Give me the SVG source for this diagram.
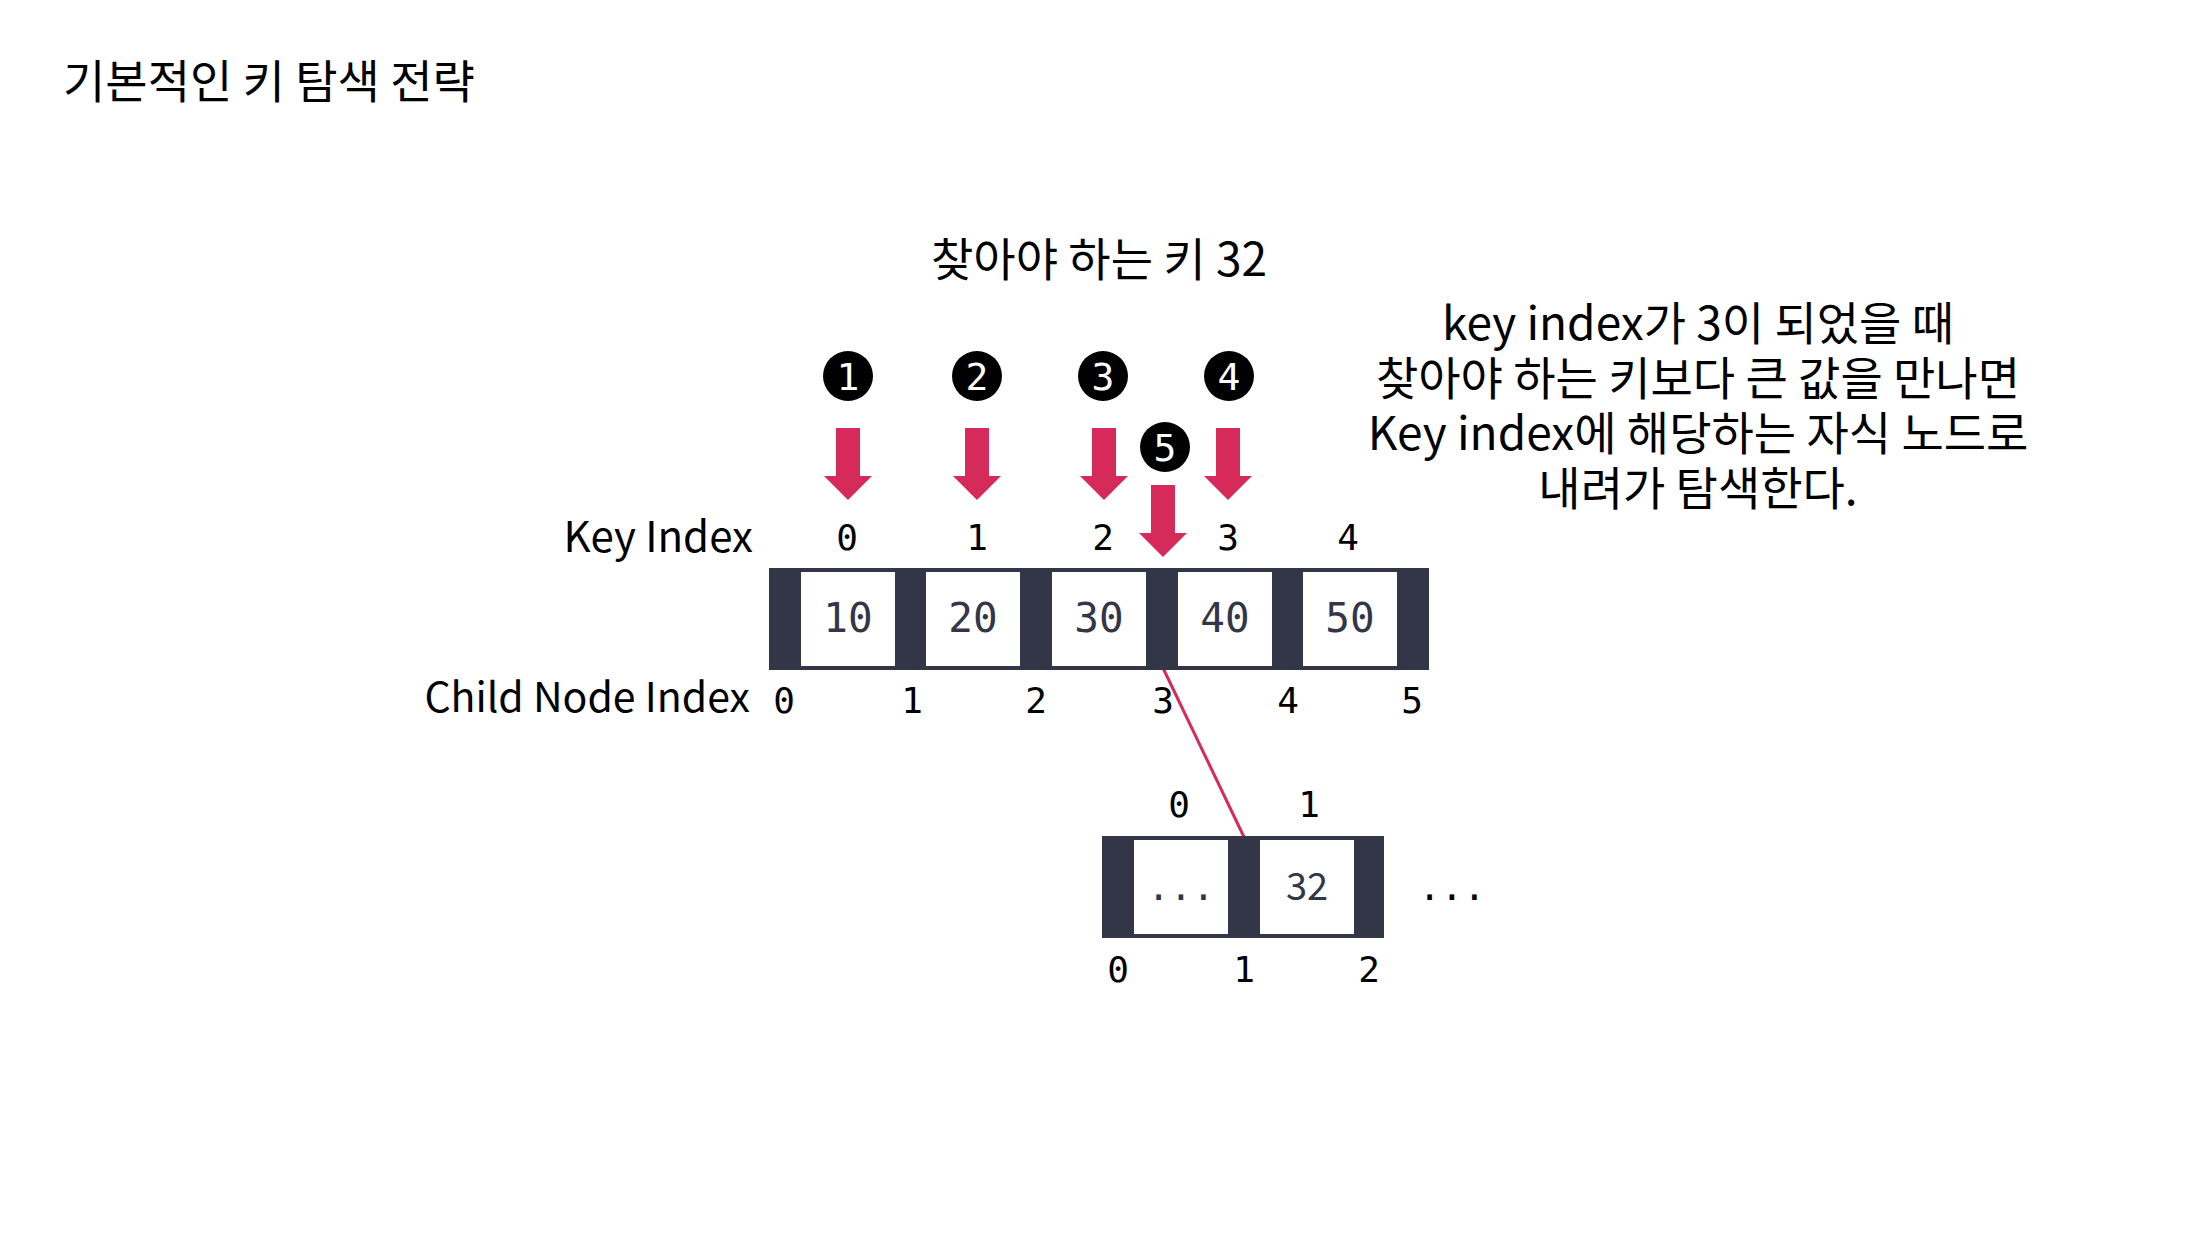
<svg xmlns="http://www.w3.org/2000/svg" width="2200" height="1236" viewBox="0 0 2200 1236">
<style>
.kr{font-family:"Noto Sans CJK KR","Noto Sans",sans-serif;fill:#000}
.mono{font-family:"DejaVu Sans Mono","Liberation Mono",monospace;fill:#000}
.frame{fill:#333647}
.cell{fill:#fff}
.val{font-family:"DejaVu Sans Mono","Liberation Mono",monospace;fill:#333647;font-size:41px;text-anchor:middle}
.idx{font-size:36px;text-anchor:middle}
.arrow{fill:#d52a5a}
.step circle{fill:#000}
.step text{font-family:"DejaVu Sans Mono",monospace;fill:#fff;font-size:38px;text-anchor:middle}
</style>
<defs>
<path id="arr" d="M-12,0 H12 V48 H24 L0,72 L-24,48 H-12 Z"/>
</defs>
<rect width="2200" height="1236" fill="#fff"/>

<text class="kr" x="63" y="98" font-size="46">기본적인 키 탐색 전략</text>
<text class="kr" x="1099" y="276" font-size="46" text-anchor="middle">찾아야 하는 키 32</text>

<g id="note" class="kr" font-size="46" text-anchor="middle">
<text x="1698" y="340">key index가 3이 되었을 때</text>
<text x="1698" y="395">찾아야 하는 키보다 큰 값을 만나면</text>
<text x="1698" y="450">Key index에 해당하는 자식 노드로</text>
<text x="1698" y="505">내려가 탐색한다.</text>
</g>

<g id="steps" class="step">
<g id="step1"><circle cx="848" cy="376" r="25"/><text x="848" y="390">1</text></g>
<g id="step2"><circle cx="977" cy="376" r="25"/><text x="977" y="390">2</text></g>
<g id="step3"><circle cx="1103" cy="376" r="25"/><text x="1103" y="390">3</text></g>
<g id="step4"><circle cx="1229" cy="376" r="25"/><text x="1229" y="390">4</text></g>
<g id="step5"><circle cx="1165" cy="447" r="25"/><text x="1165" y="461">5</text></g>
</g>

<g id="connectors">
<use href="#arr" class="arrow" x="848" y="428"/>
<use href="#arr" class="arrow" x="977" y="428"/>
<use href="#arr" class="arrow" x="1104" y="428"/>
<use href="#arr" class="arrow" x="1228" y="428"/>
<use href="#arr" class="arrow" x="1163" y="485"/>
<line x1="1163" y1="668" x2="1244" y2="837" stroke="#d52a5a" stroke-width="3"/>
</g>

<g id="key-index-label"><text class="kr" x="753" y="552" font-size="42" text-anchor="end">Key Index</text></g>
<g id="child-index-label"><text class="kr" x="750" y="712" font-size="41" text-anchor="end">Child Node Index</text></g>

<g id="key-indices" class="mono idx">
<text x="847" y="550">0</text>
<text x="977" y="550">1</text>
<text x="1103" y="550">2</text>
<text x="1228" y="550">3</text>
<text x="1348" y="550">4</text>
</g>

<g id="node-root">
<rect class="frame" x="769" y="568" width="660" height="102"/>
<rect class="cell" x="801" y="572" width="94" height="94"/>
<rect class="cell" x="926" y="572" width="94" height="94"/>
<rect class="cell" x="1052" y="572" width="94" height="94"/>
<rect class="cell" x="1178" y="572" width="94" height="94"/>
<rect class="cell" x="1303" y="572" width="94" height="94"/>
<text class="val" x="848" y="632">10</text>
<text class="val" x="973" y="632">20</text>
<text class="val" x="1099" y="632">30</text>
<text class="val" x="1225" y="632">40</text>
<text class="val" x="1350" y="632">50</text>
</g>

<g id="child-indices" class="mono idx">
<text x="784" y="713">0</text>
<text x="912" y="713">1</text>
<text x="1036" y="713">2</text>
<text x="1163" y="713">3</text>
<text x="1288" y="713">4</text>
<text x="1412" y="713">5</text>
</g>

<g id="node-child">
<g class="mono idx">
<text x="1179" y="817">0</text>
<text x="1309" y="817">1</text>
</g>
<rect class="frame" x="1102" y="836" width="282" height="102"/>
<rect class="cell" x="1134" y="840" width="94" height="94"/>
<rect class="cell" x="1260" y="840" width="94" height="94"/>
<text class="val" x="1181" y="900" style="font-size:37px">...</text>
<text class="kr" x="1307" y="900" font-size="38" text-anchor="middle" style="fill:#333647">32</text>
<g class="mono idx">
<text x="1118" y="982">0</text>
<text x="1244" y="982">1</text>
<text x="1369" y="982">2</text>
</g>
</g>
<g id="more"><text class="mono" x="1452" y="900" font-size="37" text-anchor="middle">...</text></g>
</svg>
